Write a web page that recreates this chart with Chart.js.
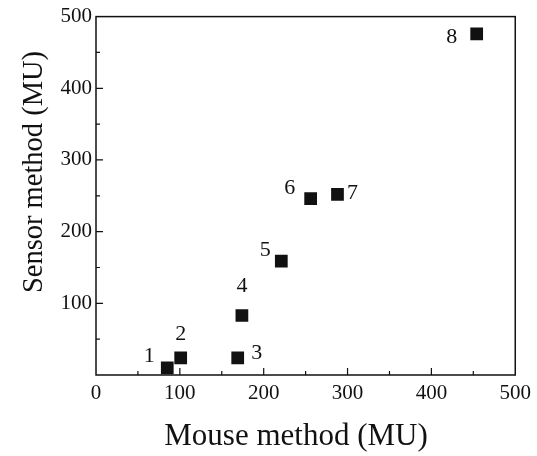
<!DOCTYPE html>
<html>
<head>
<meta charset="utf-8">
<script src="https://cdn.jsdelivr.net/npm/chart.js@4.4.1/dist/chart.umd.min.js"></script>
<style>
  html, body { margin: 0; padding: 0; background: #fff; }
  #wrap { width: 537px; height: 456px; }
</style>
</head>
<body>
<div id="wrap"><canvas id="grafico"></canvas></div>
<script>
// ================= DADOS =================
const sampleIds = ["1", "2", "3", "4", "5", "6", "7", "8"];
const mouseMU = [85, 101, 169, 174, 221, 256, 288, 454];
const sensorMU = [10, 24, 24, 83, 159, 246, 252, 476];
const tickValues = [0, 100, 200, 300, 400, 500];
const xTitle = "Mouse method (MU)";
const yTitle = "Sensor method (MU)";

// where each number sits relative to its square (px)
const labelOffsets = [[-18, -12], [0, -24], [19, -5], [0, -29], [-16, -11], [-21, -10], [15, -1], [-25, 3]];

const serif = "'Liberation Serif', 'DejaVu Serif', serif";
const ink = "#111";

// ================= PLUGINS =================
// moldura + ticks para dentro (a cada 50)
const frameTicks = {
    id: "frameTicks",
    afterDraw(chart) {
        const { ctx, chartArea: a, scales } = chart;
        ctx.save();
        ctx.strokeStyle = ink;
        ctx.lineWidth = 1.5;
        ctx.strokeRect(a.left, a.top, a.right - a.left, a.bottom - a.top);
        ctx.lineWidth = 1.2;
        for (let v = 50; v < 500; v += 50) {
            const len = v % 100 === 0 ? 7 : 4;
            const px = scales.x.getPixelForValue(v);
            const py = scales.y.getPixelForValue(v);
            ctx.beginPath();
            ctx.moveTo(px, a.bottom);
            ctx.lineTo(px, a.bottom - len);
            ctx.moveTo(a.left, py);
            ctx.lineTo(a.left + len, py);
            ctx.stroke();
        }

        // titulos dos eixos (centrados na figura, nao na area do grafico)
        ctx.fillStyle = ink;
        ctx.textAlign = "center";
        ctx.textBaseline = "alphabetic";
        ctx.font = "31px " + serif;
        ctx.fillText(xTitle, 296, 445);
        ctx.translate(42, 172);
        ctx.rotate(-Math.PI / 2);
        ctx.font = "28.5px " + serif;
        ctx.fillText(yTitle, 0, 0);
        ctx.restore();
    }
};

// numeros das amostras
const pointLabels = {
    id: "pointLabels",
    afterDatasetsDraw(chart) {
        const { ctx } = chart;
        const meta = chart.getDatasetMeta(0);
        ctx.save();
        ctx.fillStyle = ink;
        ctx.font = "22px " + serif;
        ctx.textAlign = "center";
        ctx.textBaseline = "middle";
        meta.data.forEach((pt, i) => {
            const off = labelOffsets[i];
            ctx.fillText(sampleIds[i], pt.x + off[0], pt.y + off[1]);
        });
        ctx.restore();
    }
};

// ================= GRAFICO =================
const ctx = document.getElementById("grafico").getContext("2d");
new Chart(ctx, {
    type: "scatter",
    data: {
        datasets: [{
            data: mouseMU.map((x, i) => ({ x: x, y: sensorMU[i] })),
            pointStyle: "rect",
            pointRadius: 9,
            pointHoverRadius: 9,
            backgroundColor: ink,
            borderColor: ink,
            borderWidth: 0
        }]
    },
    options: {
        responsive: true,
        maintainAspectRatio: false,
        animation: false,
        layout: { padding: { left: 0, top: 14, right: 21, bottom: 0 } },
        plugins: {
            legend: { display: false },
            tooltip: { enabled: false }
        },
        scales: {
            x: {
                type: "linear",
                min: 0,
                max: 500,
                afterBuildTicks: s => { s.ticks = tickValues.map(v => ({ value: v })); },
                afterFit: s => { s.height = 81; },
                grid: { display: false, drawTicks: false },
                border: { display: false },
                ticks: {
                    color: ink,
                    font: { family: serif, size: 21 },
                    padding: 6,
                    maxRotation: 0
                }
            },
            y: {
                type: "linear",
                min: 0,
                max: 500,
                afterBuildTicks: s => { s.ticks = tickValues.map(v => ({ value: v })); },
                afterFit: s => { s.width = 96; },
                grid: { display: false, drawTicks: false },
                border: { display: false },
                ticks: {
                    color: ink,
                    font: { family: serif, size: 21 },
                    padding: 4,
                    callback: v => (v === 0 ? "" : v)
                }
            }
        }
    },
    plugins: [frameTicks, pointLabels]
});
</script>
</body>
</html>
